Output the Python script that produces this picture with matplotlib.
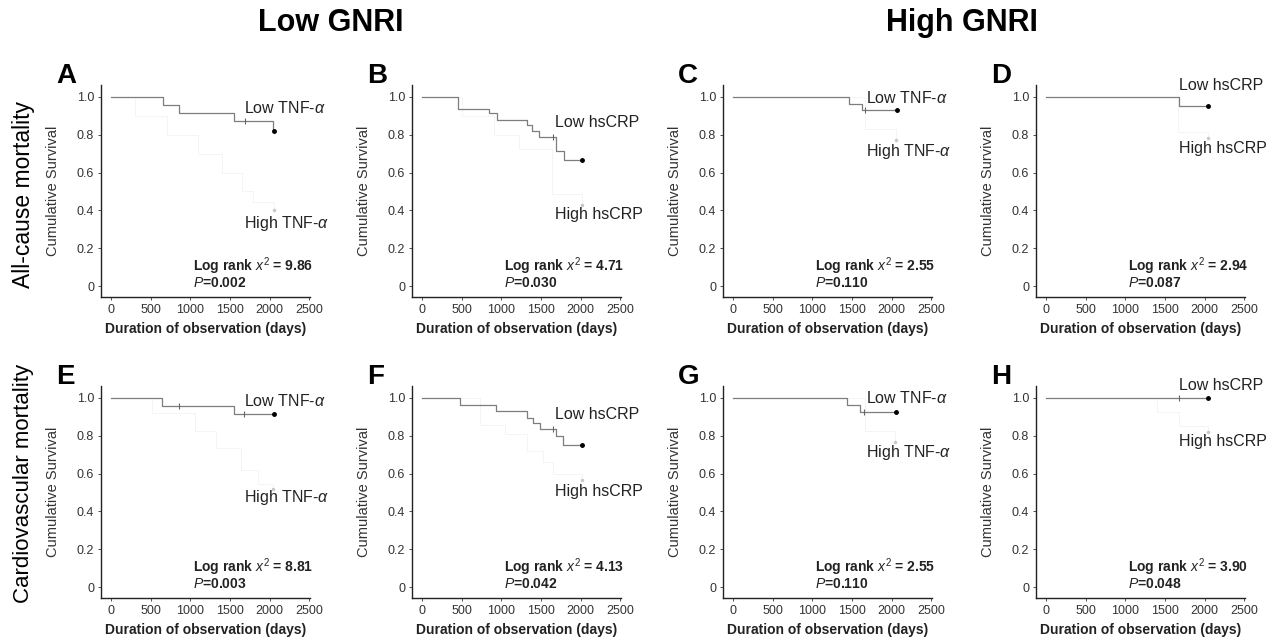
import matplotlib
matplotlib.use("Agg")
import matplotlib.pyplot as plt

plt.rcParams['font.family'] = ['Liberation Sans', 'DejaVu Sans']
plt.rcParams['mathtext.fontset'] = 'custom'
plt.rcParams['mathtext.rm'] = 'Liberation Sans'
plt.rcParams['mathtext.it'] = 'Liberation Sans:italic'
plt.rcParams['mathtext.bf'] = 'Liberation Sans:bold'

# panel letters and markers
letters = ['A', 'B', 'C', 'D', 'E', 'F', 'G', 'H']
markers = ['TNF-$\\alpha$', 'hsCRP', 'TNF-$\\alpha$', 'hsCRP',
           'TNF-$\\alpha$', 'hsCRP', 'TNF-$\\alpha$', 'hsCRP']
chi2 = ['9.86', '4.71', '2.55', '2.94', '8.81', '4.13', '2.55', '3.90']
pvals = ['0.002', '0.030', '0.110', '0.087', '0.003', '0.042', '0.110', '0.048']

# low-marker group
low_t = [[0, 650, 860, 1550, 2045],
         [0, 457, 848, 942, 1321, 1383, 1473, 1691, 1794],
         [0, 1462, 1625],
         [0, 1673],
         [0, 645, 1545],
         [0, 478, 926, 1321, 1404, 1486, 1691, 1774],
         [0, 1437, 1604],
         [0]]
low_s = [[1.0, 0.958, 0.917, 0.875, 0.82],
         [1.0, 0.937, 0.915, 0.878, 0.85, 0.82, 0.788, 0.713, 0.664],
         [1.0, 0.965, 0.93],
         [1.0, 0.95],
         [1.0, 0.958, 0.917],
         [1.0, 0.965, 0.933, 0.894, 0.868, 0.838, 0.797, 0.75],
         [1.0, 0.965, 0.924],
         [1.0]]
low_cens = [[1690], [1650], [1667], [], [855, 1680], [1650], [1650], [1680]]
low_end = [2060, 2021, 2062, 2046, 2050, 2021, 2050, 2046]

# high-marker group (barely visible in the scan)
high_t = [[0, 300, 700, 1100, 1400, 1650, 1790, 2050],
          [0, 500, 900, 1218, 1642],
          [0, 1667],
          [0, 1660],
          [0, 515, 1057, 1325, 1640, 1850],
          [0, 724, 1045, 1321, 1530, 1650],
          [0, 1665],
          [0, 1400, 1680]]
high_s = [[1.0, 0.9, 0.8, 0.7, 0.6, 0.5, 0.445, 0.40],
          [1.0, 0.9, 0.8, 0.725, 0.487],
          [1.0, 0.832],
          [1.0, 0.816],
          [1.0, 0.92, 0.826, 0.733, 0.62, 0.547],
          [1.0, 0.856, 0.81, 0.72, 0.66, 0.60],
          [1.0, 0.827],
          [1.0, 0.924, 0.853]]
high_end = [[2060, 0.40], [2021, 0.43], [2058, 0.773], [2040, 0.783],
            [2040, 0.52], [2021, 0.565], [2040, 0.768], [2040, 0.82]]

x_ticks = [0, 500, 1000, 1500, 2000, 2500]
y_ticks = [0, 0.2, 0.4, 0.6, 0.8, 1.0]
y_ticklabels = ['0', '0.2', '0.4', '0.6', '0.8', '1.0']

W, H = 1278, 643
fig = plt.figure(figsize=(W / 100, H / 100), dpi=100)

col_left = [101, 412, 723, 1036]
row_top = [85, 386]
aw, ah = 209, 212
low_lab_y = [0.94, 0.867, 0.994, 1.063, 0.984, 0.91, 1.0, 1.068]
high_lab_y = [0.333, 0.376, 0.714, 0.725, 0.471, 0.503, 0.714, 0.767]

for i in range(8):
    r, c = divmod(i, 4)
    ax = fig.add_axes([col_left[c] / W, 1 - (row_top[r] + ah) / H, aw / W, ah / H])
    ax.set_xlim(-130, 2510)
    ax.set_ylim(-0.058, 1.063)

    # high group, almost lost in the scan
    ht = high_t[i] + [high_end[i][0]]
    hs = high_s[i] + [high_end[i][1]]
    ax.step(ht, hs, where='post', color='#f4f4f4', lw=0.7, zorder=1)
    ax.plot(high_end[i][0], high_end[i][1], 'o', ms=1.5, color='#c8c8c8', zorder=2)

    # low group
    lt = low_t[i] + [low_end[i]]
    ls = low_s[i] + [low_s[i][-1]]
    ax.step(lt, ls, where='post', color='#7d7d7d', lw=0.9, zorder=3)
    for ct in low_cens[i]:
        sv = [s for t, s in zip(low_t[i], low_s[i]) if t <= ct][-1]
        ax.plot(ct, sv, marker='|', ms=4, mew=0.8, color='#666666', zorder=4)
    ax.plot(low_end[i], low_s[i][-1], 'o', ms=2.5, color='black', zorder=5)

    for sp in ['top', 'right']:
        ax.spines[sp].set_visible(False)
    for sp in ['left', 'bottom']:
        ax.spines[sp].set_linewidth(1.0)
        ax.spines[sp].set_color('#222222')
    ax.set_xticks(x_ticks)
    ax.set_yticks(y_ticks)
    ax.set_yticklabels(y_ticklabels)
    ax.tick_params(length=2, width=0.6, pad=3, labelsize=9, colors='#333333')

    ax.set_ylabel('Cumulative Survival', fontsize=10.5, color='#333333')
    ax.yaxis.set_label_coords(-41 / aw, 0.5)
    ax.set_xlabel('Duration of observation (days)', fontsize=10,
                  fontweight='bold', color='#222222')
    ax.xaxis.set_label_coords(0.5, -25 / ah)

    ax.text(1675, low_lab_y[i], 'Low ' + markers[i], fontsize=11.5,
            va='center', ha='left', color='#222222')
    ax.text(1675, high_lab_y[i], 'High ' + markers[i], fontsize=11.5,
            va='center', ha='left', color='#222222')
    ax.text(1030, 0.103, 'Log rank $\\mathit{x}^2$ = ' + chi2[i], fontsize=10,
            fontweight='bold', va='center', ha='left', color='#222222')
    ax.text(1030, 0.018, '$\\mathit{P}$=' + pvals[i], fontsize=10,
            fontweight='bold', va='center', ha='left', color='#222222')

    fig.text((col_left[c] - 45) / W, 1 - (row_top[r] - 2) / H, letters[i],
             fontsize=20, fontweight='bold', ha='left', va='baseline')

fig.text(331 / W, 1 - 23 / H, 'Low GNRI', fontsize=22, fontweight='bold',
         ha='center', va='center')
fig.text(962 / W, 1 - 23 / H, 'High GNRI', fontsize=22, fontweight='bold',
         ha='center', va='center')
fig.text(24 / W, 1 - 194 / H, 'All-cause mortality', fontsize=16.5,
         rotation=90, ha='center', va='center')
fig.text(24 / W, 1 - 483 / H, 'Cardiovascular mortality', fontsize=16,
         rotation=90, ha='center', va='center')

fig.savefig('out.png', dpi=100)
